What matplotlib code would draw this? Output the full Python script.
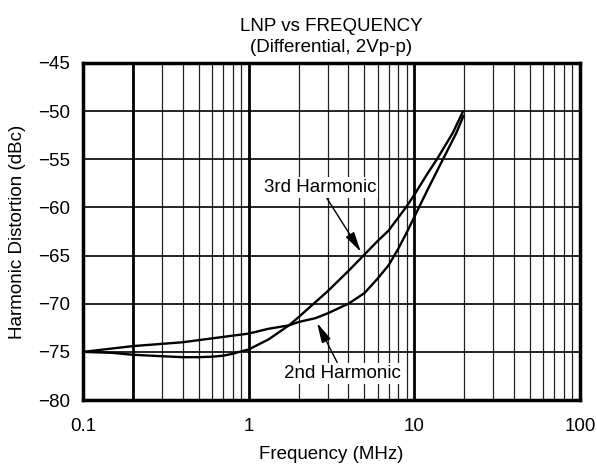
"""Harmonic distortion vs frequency (LNP, differential 2Vp-p)."""

import matplotlib

matplotlib.use("Agg")
import matplotlib.pyplot as plt

plt.rcParams["font.family"] = ["Liberation Sans", "DejaVu Sans"]

# values
freq_3rd = [0.1, 0.15, 0.2, 0.3, 0.4, 0.5, 0.6, 0.7, 0.8, 0.9, 1.0, 1.32, 1.75, 2.0, 3.0, 4.0,
            5.0, 6.0, 7.0, 8.9, 10.0, 12.0, 13.7, 17.1, 19.6]
dist_3rd = [-75.0, -75.1, -75.3, -75.45, -75.55, -75.55, -75.5, -75.4, -75.2, -74.95, -74.75,
            -73.7, -72.25, -71.4, -68.7, -66.6, -64.9, -63.5, -62.4, -60.0, -58.7, -56.5,
            -55.0, -52.25, -50.1]

freq_2nd = [0.1, 0.2, 0.4, 0.6, 1.0, 1.32, 1.75, 2.0, 2.53, 3.0, 4.0, 5.0, 6.0, 7.0, 8.0, 9.0,
            10.0, 12.0, 14.9, 17.9, 19.8]
dist_2nd = [-75.0, -74.4, -74.0, -73.6, -73.1, -72.6, -72.25, -71.9, -71.5, -71.0, -70.0, -68.9,
            -67.4, -66.0, -64.3, -62.6, -61.0, -58.2, -55.0, -52.3, -50.5]

x_ticks = [0.1, 1, 10, 100]
x_tick_labels = ["0.1", "1", "10", "100"]
y_ticks = [-80, -75, -70, -65, -60, -55, -50, -45]
minor_lines = [m * d for d in (0.1, 1, 10) for m in range(2, 10)]
heavy_lines = [0.2, 1, 10]


def main() -> None:
    fig = plt.figure(figsize=(5.97, 4.69), dpi=100)
    ax = fig.add_axes([0.139, 0.147, 0.8325, 0.719])
    ax.set_xscale("log")
    ax.set_xlim(0.1, 100)
    ax.set_ylim(-80, -45)

    for x in minor_lines:
        ax.axvline(x, color="#222222", lw=0.9, zorder=1)
    for x in heavy_lines:
        ax.axvline(x, color="black", lw=2.0, zorder=1)
    for y in y_ticks:
        ax.axhline(y, color="black", lw=1.2, zorder=1)

    ax.plot(freq_3rd, dist_3rd, color="black", lw=1.7, zorder=3)
    ax.plot(freq_2nd, dist_2nd, color="black", lw=1.7, zorder=3)

    arrow = dict(arrowstyle="-|>,head_length=0.9,head_width=0.22", color="black", lw=1.0,
                 shrinkA=0, shrinkB=0)
    box = dict(facecolor="white", edgecolor="none", pad=1.5)
    ax.annotate("3rd Harmonic", xy=(4.75, -64.6), xytext=(2.69, -57.9), ha="center", va="center",
                fontsize=13.5, bbox=box, arrowprops=arrow, zorder=4)
    ax.annotate("2nd Harmonic", xy=(2.59, -72.0), xytext=(3.69, -77.2), ha="center", va="center",
                fontsize=13.5, bbox=box, arrowprops=arrow, zorder=4)

    ax.set_xticks(x_ticks)
    ax.set_xticklabels(x_tick_labels)
    ax.xaxis.set_minor_locator(matplotlib.ticker.NullLocator())
    ax.set_yticks(y_ticks)
    ax.tick_params(axis="both", length=0, labelsize=13.5)
    ax.tick_params(axis="x", pad=13)
    ax.tick_params(axis="y", pad=9)
    for spine in ax.spines.values():
        spine.set_linewidth(2.5)
        spine.set_zorder(5)

    ax.set_title("LNP vs FREQUENCY\n(Differential, 2Vp-p)", fontsize=13.5, pad=8, linespacing=1.25)
    ax.set_xlabel("Frequency (MHz)", fontsize=13.5, labelpad=8)
    ax.set_ylabel("Harmonic Distortion (dBc)", fontsize=13.5, labelpad=9)

    fig.savefig("out.png", dpi=100)
    plt.close(fig)


if __name__ == "__main__":
    main()
